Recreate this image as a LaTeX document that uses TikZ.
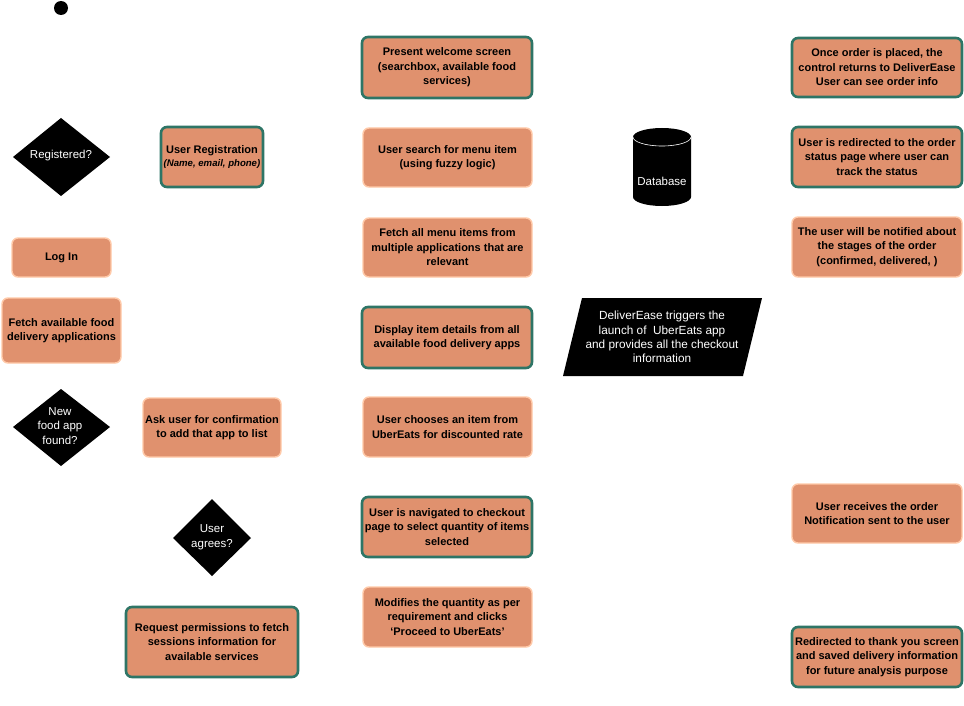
\documentclass[tikz,border=0pt]{standalone}
\usepackage{fontspec}
\setmainfont{Liberation Sans}
\usetikzlibrary{shapes.geometric}
\definecolor{boxfill}{HTML}{E0916E}
\definecolor{tealb}{HTML}{2E7566}
\definecolor{peachb}{HTML}{FFC9A8}
\tikzset{
  base/.style={fill=boxfill, rounded corners=6pt, align=center, font=\fontsize{11}{14.5}\selectfont\bfseries, inner sep=0pt},
  tbox/.style={base, draw=tealb, line width=2.6pt},
  pbox/.style={base, draw=peachb, line width=1.4pt},
  dia/.style={fill=black},
  wtext/.style={text=white, align=center, font=\fontsize{11.5}{14.5}\selectfont},
}
\begin{document}
\begin{tikzpicture}[x=1pt,y=-1pt]
\useasboundingbox (0,0) rectangle (964,706);
% start dot
\fill (61,8) circle (7) coordinate (start);
% diamonds
\path[dia] (13,157) -- (61,118) -- (110,157) -- (61,196) -- cycle;
\node[wtext] (reg) at (61,156) {Registered?};
\path[dia] (13,427) -- (61,389) -- (110,427) -- (61,466) -- cycle;
\node[wtext] (newapp) at (60,426) {New\\food app\\found?};
\path[dia] (173,538) -- (212,499) -- (251,538) -- (212,576) -- cycle;
\node[wtext] (agree) at (212,537) {User\\agrees?};
% left boxes
\node[tbox, minimum width=102pt, minimum height=60pt] (ureg) at (212,157) {User Registration\\[-2pt]{\fontsize{9.6}{11}\selectfont\itshape (Name, email, phone)}};
\node[pbox, minimum width=99pt, minimum height=39pt] (login) at (61.5,257.5) {Log In};
\node[pbox, minimum width=119pt, minimum height=65pt] (fetch) at (61.5,330.5) {Fetch available food\\delivery applications};
\node[pbox, minimum width=138pt, minimum height=59pt] (ask) at (212,427.5) {Ask user for confirmation\\to add that app to list};
\node[tbox, minimum width=172pt, minimum height=70pt] (req) at (212,642) {Request permissions to fetch\\sessions information for\\available services};
% middle column
\node[tbox, minimum width=170pt, minimum height=61pt] (welcome) at (447,67.5) {Present welcome screen\\(searchbox, available food\\services)};
\node[pbox, minimum width=169pt, minimum height=59pt] (search) at (447.5,157.5) {User search for menu item\\(using fuzzy logic)};
\node[pbox, minimum width=169pt, minimum height=59pt] (fetchall) at (447.5,247.5) {Fetch all menu items from\\multiple applications that are\\relevant};
\node[tbox, minimum width=170pt, minimum height=61pt] (display) at (447,337.5) {Display item details from all\\available food delivery apps};
\node[pbox, minimum width=169pt, minimum height=60pt] (choose) at (447.5,427) {User chooses an item from\\UberEats for discounted rate};
\node[tbox, minimum width=170pt, minimum height=60pt] (nav) at (447,527) {User is navigated to checkout\\page to select quantity of items\\selected};
\node[pbox, minimum width=169pt, minimum height=60pt] (modify) at (447.5,617) {Modifies the quantity as per\\requirement and clicks\\`Proceed to UberEats'};
% database
\fill (633,137) -- (633,197) arc[start angle=180, end angle=0, x radius=29, y radius=9] -- (691,137) arc[start angle=0, end angle=-180, x radius=29, y radius=9] -- cycle;
\draw[white, line width=0.6pt] (633,137) arc[start angle=180, end angle=0, x radius=29, y radius=9];
\node[wtext] (db) at (662,181) {Database};
% parallelogram
\fill (582,298) -- (762,298) -- (743,376) -- (563,376) -- cycle;
\node[wtext, font=\fontsize{11.8}{14.3}\selectfont] (trig) at (662,337) {DeliverEase triggers the\\launch of\ \ UberEats app\\and provides all the checkout\\information};
% right column
\node[tbox, minimum width=170pt, minimum height=59pt] (placed) at (877,67.5) {Once order is placed, the\\control returns to DeliverEase\\User can see order info};
\node[tbox, minimum width=170pt, minimum height=60pt] (status) at (877,157) {User is redirected to the order\\status page where user can\\track the status};
\node[pbox, minimum width=170pt, minimum height=60pt] (notify) at (877,247) {The user will be notified about\\the stages of the order\\(confirmed, delivered, )};
\node[pbox, minimum width=170pt, minimum height=59pt] (recv) at (877,513.5) {User receives the order\\Notification sent to the user};
\node[tbox, minimum width=170pt, minimum height=60pt] (thanks) at (877,657) {Redirected to thank you screen\\and saved delivery information\\for future analysis purpose};
\end{tikzpicture}
\end{document}
